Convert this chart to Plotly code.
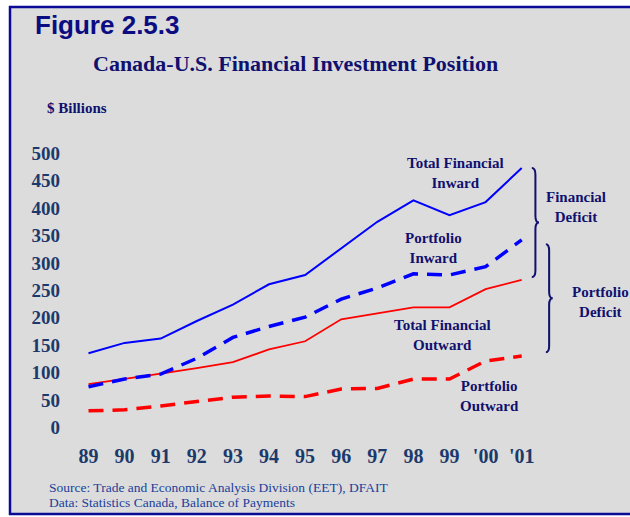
import plotly.graph_objects as go

# Years and their axis labels
years = ["89", "90", "91", "92", "93", "94", "95", "96", "97", "98", "99", "'00", "'01"]

# Positions, $ billions
total_inward = [135, 154, 162, 194, 224, 261, 278, 327, 375, 414, 387, 411, 473]
portfolio_inward = [74, 88, 97, 126, 164, 184, 201, 234, 254, 280, 278, 293, 342]
total_outward = [79, 88, 98, 108, 119, 142, 157, 197, 208, 219, 219, 252, 269]
portfolio_outward = [30, 32, 39, 47, 55, 57, 56, 70, 71, 88, 88, 121, 130]

y_ticks = [0, 50, 100, 150, 200, 250, 300, 350, 400, 450, 500]

W_PX, H_PX = 630, 517
M_L, M_R, M_T, M_B = 61, 54, 142, 79
PLOT_W = W_PX - M_L - M_R
PLOT_H = H_PX - M_T - M_B
X_RANGE = [-0.762, 13.504]
Y_RANGE = [-19.5, 520.6]

BG = "#DCDCDC"
NAVY = "#10106E"
TICK = "#1B3A6B"
SERIF = "Liberation Serif, Times New Roman, serif"
SANS = "Liberation Sans, Arial, sans-serif"


def px_x(px):
    return (px - M_L) / PLOT_W


def px_y(py):
    return (H_PX - M_B - py) / PLOT_H


x_idx = list(range(len(years)))

fig = go.Figure()
fig.add_trace(go.Scatter(x=x_idx, y=total_outward, mode="lines",
                         line=dict(color="#FF0000", width=1.8)))
fig.add_trace(go.Scatter(x=x_idx, y=portfolio_outward, mode="lines",
                         line=dict(color="#FF0000", width=3.5, dash="15px,9px")))
fig.add_trace(go.Scatter(x=x_idx, y=total_inward, mode="lines",
                         line=dict(color="#0000FF", width=2)))
fig.add_trace(go.Scatter(x=x_idx, y=portfolio_inward, mode="lines",
                         line=dict(color="#0000FF", width=3.5, dash="15px,9px")))


def brace(x_hook, x_stem, x_tip, y_top, y_bot, d=12):
    y_mid = (y_top + y_bot) / 2
    return (f"M {x_hook},{y_top} Q {x_stem},{y_top} {x_stem},{y_top - d} "
            f"L {x_stem},{y_mid + d} Q {x_stem},{y_mid} {x_tip},{y_mid} "
            f"Q {x_stem},{y_mid} {x_stem},{y_mid - d} "
            f"L {x_stem},{y_bot + d} Q {x_stem},{y_bot} {x_hook},{y_bot}")


shapes = [
    # page frame: white margin strips and navy border
    dict(type="rect", xref="paper", yref="paper", layer="below",
         x0=px_x(0), x1=px_x(W_PX), y0=px_y(0), y1=px_y(6), fillcolor="white", line_width=0),
    dict(type="rect", xref="paper", yref="paper", layer="below",
         x0=px_x(0), x1=px_x(9), y0=px_y(0), y1=px_y(H_PX), fillcolor="white", line_width=0),
    dict(type="rect", xref="paper", yref="paper", layer="below",
         x0=px_x(0), x1=px_x(W_PX), y0=px_y(515), y1=px_y(H_PX), fillcolor="white", line_width=0),
    dict(type="line", xref="paper", yref="paper", x0=px_x(9), x1=px_x(W_PX),
         y0=px_y(7), y1=px_y(7), line=dict(color="#0A0A96", width=2.5)),
    dict(type="line", xref="paper", yref="paper", x0=px_x(10), x1=px_x(10),
         y0=px_y(6), y1=px_y(515), line=dict(color="#0A0A96", width=2.5)),
    dict(type="line", xref="paper", yref="paper", x0=px_x(9), x1=px_x(W_PX),
         y0=px_y(514), y1=px_y(514), line=dict(color="#0A0A96", width=2.5)),
    # braces marking the deficits
    dict(type="path", xref="x", yref="y",
         path=brace(12.28, 12.38, 12.48, total_inward[-1], total_outward[-1] + 5),
         line=dict(color=NAVY, width=2)),
    dict(type="path", xref="x", yref="y",
         path=brace(12.67, 12.76, 12.86, portfolio_inward[-1] - 8, portfolio_outward[-1] + 7),
         line=dict(color=NAVY, width=2)),
]


def label(text, px, py, size=15, color=NAVY, family=SERIF, anchor="center"):
    return dict(text=text, x=px_x(px), y=px_y(py), xref="paper", yref="paper",
                xanchor=anchor, yanchor="middle", showarrow=False, align="center",
                font=dict(family=family, size=size, color=color))


annotations = [
    label("<b>Figure 2.5.3</b>", 33, 25, size=26, color="#0C0C82", family=SANS, anchor="left"),
    label("<b>Canada-U.S. Financial Investment Position</b>", 295, 63, size=22),
    label("<b>$ Billions</b>", 45, 108, size=15, anchor="left"),
    label("<b>Total Financial<br>Inward</b>", 455, 173),
    label("<b>Portfolio<br>Inward</b>", 433, 248),
    label("<b>Total Financial<br>Outward</b>", 442, 335),
    label("<b>Portfolio<br>Outward</b>", 489, 396),
    label("<b>Financial<br>Deficit</b>", 576, 207),
    label("<b>Portfolio<br>Deficit</b>", 600, 302),
    label("Source: Trade and Economic Analysis Division (EET), DFAIT", 47, 487,
          size=13.5, color="#203F9A", anchor="left"),
    label("Data: Statistics Canada, Balance of Payments", 47, 502,
          size=13.5, color="#203F9A", anchor="left"),
]

fig.update_layout(
    width=W_PX, height=H_PX,
    margin=dict(l=M_L, r=M_R, t=M_T, b=M_B, pad=0),
    paper_bgcolor=BG, plot_bgcolor=BG,
    showlegend=False,
    shapes=shapes,
    annotations=annotations,
    xaxis=dict(range=X_RANGE, tickmode="array", tickvals=x_idx, ticktext=years,
               showgrid=False, zeroline=False, showline=False, ticks="",
               ticklabelstandoff=4,
               tickfont=dict(family=SERIF, size=20, color=TICK, weight="bold")),
    yaxis=dict(range=Y_RANGE, tickmode="array", tickvals=y_ticks,
               showgrid=False, zeroline=False, showline=False, ticks="",
               tickfont=dict(family=SERIF, size=19, color=TICK, weight="bold")),
)

fig.write_html("out.html")
